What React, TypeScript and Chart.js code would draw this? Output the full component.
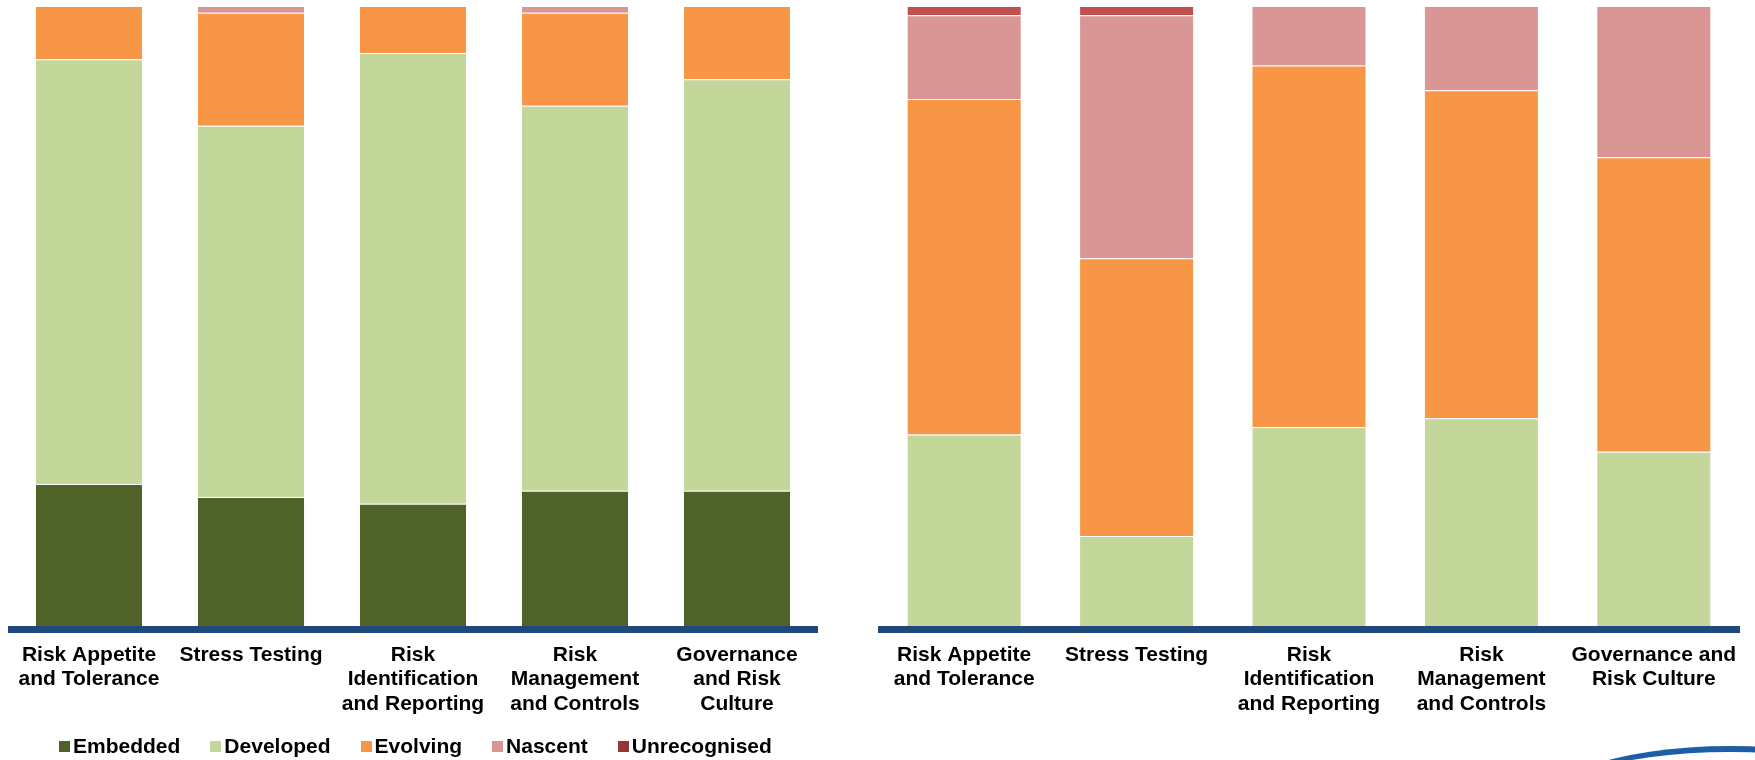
import { useEffect, useRef } from "react";
import { Chart, registerables } from "chart.js";

Chart.register(...registerables);

// Category labels (multi-line) for each panel
const leftCategories: string[][] = [
  ["Risk Appetite", "and Tolerance"],
  ["Stress Testing"],
  ["Risk", "Identification", "and Reporting"],
  ["Risk", "Management", "and Controls"],
  ["Governance", "and Risk", "Culture"],
];
const rightCategories: string[][] = [
  ["Risk Appetite", "and Tolerance"],
  ["Stress Testing"],
  ["Risk", "Identification", "and Reporting"],
  ["Risk", "Management", "and Controls"],
  ["Governance and", "Risk Culture"],
];

const seriesNames = ["Embedded", "Developed", "Evolving", "Nascent", "Unrecognised"];
const leftColors = ["#4F6228", "#C4D79B", "#F79646", "#D99694", "#953735"];
const rightColors = ["#4F6228", "#C4D79B", "#F79646", "#D99694", "#C0504D"];

// Share of firms (%) per maturity level — left panel
const leftEmbedded = [22.9, 20.8, 19.7, 21.8, 21.8];
const leftDeveloped = [68.5, 59.9, 72.7, 62.1, 66.4];
const leftEvolving = [8.6, 18.2, 7.6, 15.0, 11.8];
const leftNascent = [0, 1.1, 0, 1.1, 0];
const leftUnrecognised = [0, 0, 0, 0, 0];

// Share of firms (%) per maturity level — right panel
const rightEmbedded = [0, 0, 0, 0, 0];
const rightDeveloped = [30.9, 14.5, 32.1, 33.5, 28.1];
const rightEvolving = [54.1, 44.8, 58.3, 52.9, 47.5];
const rightNascent = [13.5, 39.2, 9.6, 13.6, 24.4];
const rightUnrecognised = [1.5, 1.5, 0, 0, 0];

const FONT = "'Liberation Sans', Arial, Helvetica, sans-serif";

// Thick navy baseline drawn under the plot area
const baselinePlugin = {
  id: "baseline",
  afterDatasetsDraw(chart: any) {
    const { ctx, chartArea } = chart;
    ctx.save();
    ctx.fillStyle = "#1F497D";
    ctx.fillRect(chartArea.left, chartArea.bottom, chartArea.right - chartArea.left, 7);
    ctx.restore();
  },
};

function StackedPanel(props: {
  labels: string[][];
  series: number[][];
  colors: string[];
  width: number;
  padLeft: number;
  padRight: number;
  left: number;
}) {
  const ref = useRef<HTMLCanvasElement | null>(null);

  useEffect(() => {
    if (!ref.current) return;
    const chart = new Chart(ref.current, {
      type: "bar",
      data: {
        labels: props.labels,
        datasets: props.series.map((values, i) => ({
          label: seriesNames[i],
          data: values,
          backgroundColor: props.colors[i],
          borderColor: "rgba(255,255,255,0.3)",
          borderWidth: 1,
          barPercentage: 0.667,
          categoryPercentage: 1,
        })),
      },
      options: {
        animation: false,
        responsive: false,
        maintainAspectRatio: false,
        layout: { padding: { left: props.padLeft, right: props.padRight, top: 6, bottom: 0 } },
        plugins: {
          legend: { display: false },
          tooltip: { enabled: false },
        },
        scales: {
          x: {
            stacked: true,
            grid: { display: false, drawTicks: false },
            border: { display: false },
            ticks: {
              color: "#000000",
              autoSkip: false,
              maxRotation: 0,
              padding: 17,
              font: { family: FONT, size: 21, weight: "bold", lineHeight: 1.157 },
            },
            afterFit: (scale: any) => {
              scale.height = 134;
            },
          },
          y: {
            stacked: true,
            display: false,
            min: 0,
            max: 100,
          },
        },
      },
      plugins: [baselinePlugin],
    } as any);
    return () => chart.destroy();
  }, []);

  return (
    <canvas
      ref={ref}
      width={props.width}
      height={760}
      style={{ position: "absolute", left: props.left, top: 0, width: props.width, height: 760, display: "block" }}
    />
  );
}

function Legend() {
  return (
    <div
      style={{
        position: "absolute",
        left: 59,
        top: 734,
        height: 24,
        display: "flex",
        alignItems: "center",
        fontFamily: FONT,
        fontWeight: "bold",
        fontSize: 21,
        lineHeight: "24px",
        color: "#000",
        whiteSpace: "nowrap",
      }}
    >
      {seriesNames.map((name, i) => (
        <div key={name} style={{ display: "flex", alignItems: "center", marginRight: 30 }}>
          <span style={{ display: "inline-block", width: 11, height: 11, background: leftColors[i], marginRight: 3 }} />
          <span>{name}</span>
        </div>
      ))}
    </div>
  );
}

export default function App() {
  return (
    <div
      style={{
        position: "absolute",
        left: 0,
        top: 0,
        width: 1755,
        height: 760,
        overflow: "hidden",
        background: "#ffffff",
      }}
    >
      <StackedPanel
        labels={leftCategories}
        series={[leftEmbedded, leftDeveloped, leftEvolving, leftNascent, leftUnrecognised]}
        colors={leftColors}
        width={830}
        padLeft={8}
        padRight={12}
        left={0}
      />
      <StackedPanel
        labels={rightCategories}
        series={[rightEmbedded, rightDeveloped, rightEvolving, rightNascent, rightUnrecognised]}
        colors={rightColors}
        width={895}
        padLeft={18}
        padRight={15}
        left={860}
      />
      <Legend />
      {/* corner emblem arc */}
      <div
        style={{
          position: "absolute",
          left: 1520,
          top: 746,
          width: 420,
          height: 150,
          borderRadius: "50%",
          borderTop: "6px solid #1D5EA8",
          borderLeft: "0 solid transparent",
          borderRight: "0 solid transparent",
          boxSizing: "border-box",
        }}
      />
    </div>
  );
}
